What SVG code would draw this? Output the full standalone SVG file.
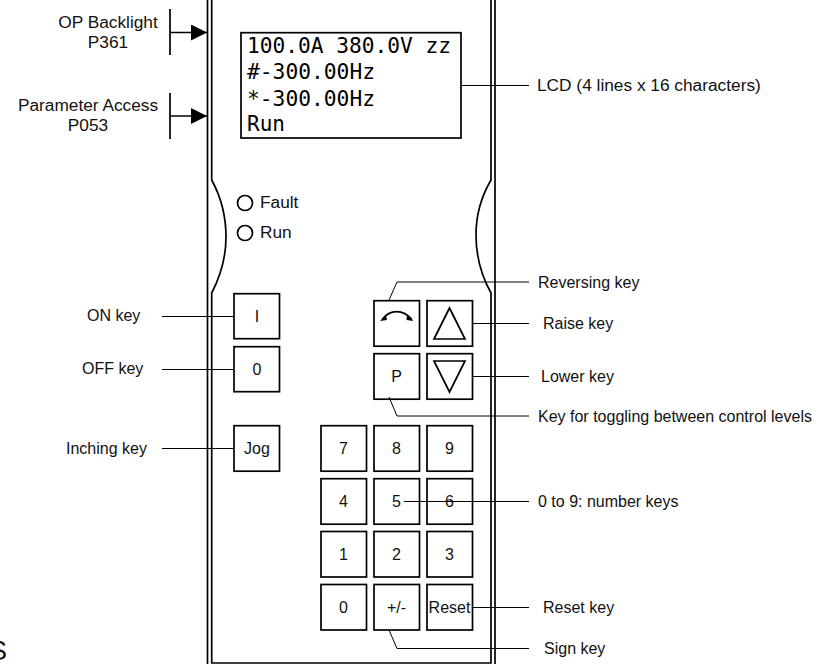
<svg xmlns="http://www.w3.org/2000/svg" width="825" height="664" viewBox="0 0 825 664">
<style>
text{font-family:"Liberation Sans",Arial,sans-serif;font-size:16px;fill:#111}
.big{font-size:17.3px}
.m{text-anchor:middle}
.lcd{font-family:"DejaVu Sans Mono","Liberation Mono",monospace;font-size:21px;fill:#000}
.k{fill:#fff;stroke:#000;stroke-width:1.7}
.b{fill:none;stroke:#000;stroke-width:1.7}
.l{fill:none;stroke:#000;stroke-width:1}
</style>
<defs>
<marker id="ah" viewBox="0 0 10 10" refX="10" refY="5" markerWidth="16" markerHeight="16" markerUnits="userSpaceOnUse" orient="auto"><path d="M0 0L10 5L0 10Z" fill="#000"/></marker>
</defs>
<rect width="825" height="664" fill="#fff"/>
<text x="-11" y="660" style="font-size:27px">S</text>
<g id="housing">
<path class="b" d="M207.5 0V664"/>
<path class="b" d="M495 0V664"/>
<path class="b" d="M211.7 0V180C221 197 226 217 226 237C226 257 221 275 211.7 293V663H491V293C481 275 476 255 476 235C476 215 481 197 491 180V0"/>
</g>
<g id="lcd">
<rect class="k" x="241" y="32.7" width="220" height="105.3"/>
<text class="lcd" x="247" y="53" textLength="204" lengthAdjust="spacingAndGlyphs">100.0A 380.0V zz</text>
<text class="lcd" x="247" y="79" textLength="128" lengthAdjust="spacingAndGlyphs">#-300.00Hz</text>
<text class="lcd" x="247" y="105.5" textLength="128" lengthAdjust="spacingAndGlyphs">*-300.00Hz</text>
<text class="lcd" x="247" y="131">Run</text>
</g>
<g id="led-fault"><circle class="b" cx="245" cy="203" r="7.5"/><text class="big" x="260" y="208">Fault</text></g>
<g id="led-run"><circle class="b" cx="245" cy="233" r="7.5"/><text class="big" x="260" y="238">Run</text></g>
<g id="key-on"><rect class="k" x="234" y="293.7" width="45.5" height="45"/><text class="m" x="257" y="322">I</text></g>
<g id="key-off"><rect class="k" x="234" y="346.7" width="45.5" height="45"/><text class="m" x="257" y="375">0</text></g>
<g id="key-jog"><rect class="k" x="234" y="425.7" width="45.5" height="45.5"/><text class="m" x="257" y="454">Jog</text></g>
<g id="key-reverse"><rect class="k" x="374" y="300.7" width="45.5" height="45.5"/><path class="b" d="M382 319.5C390 309 403 309 412 319.5"/><path d="M380 321L386 315L387 320ZM413.5 321L407 315L406.5 320Z" fill="#000"/></g>
<g id="key-raise"><rect class="k" x="427" y="300.7" width="45.5" height="45.5"/><path class="b" d="M449.5 308L465 339H434Z"/></g>
<g id="key-p"><rect class="k" x="374" y="353.7" width="45.5" height="45.5"/><text class="m" x="396.5" y="382">P</text></g>
<g id="key-lower"><rect class="k" x="427" y="353.7" width="45.5" height="45.5"/><path class="b" d="M434 361H465L449.5 392Z"/></g>
<g id="key-7"><rect class="k" x="321" y="425.7" width="45.5" height="45.5"/><text class="m" x="343.5" y="454">7</text></g>
<g id="key-8"><rect class="k" x="374" y="425.7" width="45.5" height="45.5"/><text class="m" x="396.5" y="454">8</text></g>
<g id="key-9"><rect class="k" x="427" y="425.7" width="45.5" height="45.5"/><text class="m" x="449.5" y="454">9</text></g>
<g id="key-4"><rect class="k" x="321" y="478.7" width="45.5" height="45.5"/><text class="m" x="343.5" y="507">4</text></g>
<g id="key-5"><rect class="k" x="374" y="478.7" width="45.5" height="45.5"/><text class="m" x="396.5" y="507">5</text></g>
<g id="key-6"><rect class="k" x="427" y="478.7" width="45.5" height="45.5"/><text class="m" x="449.5" y="507">6</text></g>
<g id="key-1"><rect class="k" x="321" y="531.5" width="45.5" height="45.5"/><text class="m" x="343.5" y="560">1</text></g>
<g id="key-2"><rect class="k" x="374" y="531.5" width="45.5" height="45.5"/><text class="m" x="396.5" y="560">2</text></g>
<g id="key-3"><rect class="k" x="427" y="531.5" width="45.5" height="45.5"/><text class="m" x="449.5" y="560">3</text></g>
<g id="key-0"><rect class="k" x="321" y="584.5" width="45.5" height="45.5"/><text class="m" x="343.5" y="613">0</text></g>
<g id="key-sign"><rect class="k" x="374" y="584.5" width="45.5" height="45.5"/><text class="m" x="396.5" y="613">+/-</text></g>
<g id="key-reset"><rect class="k" x="427" y="584.5" width="45.5" height="45.5"/><text class="m" x="449.5" y="613">Reset</text></g>
<g id="connectors">
<path class="b" d="M170 9V55M170 93V139"/>
<path class="b" d="M170 32.5H207" marker-end="url(#ah)"/>
<path class="b" d="M170 116H207" marker-end="url(#ah)"/>
<path class="l" d="M461 85.5H529"/>
<path class="l" d="M162 316.5H234"/>
<path class="l" d="M162 369.5H234"/>
<path class="l" d="M162 448.5H234"/>
<path class="l" d="M389 300L397 282H529"/>
<path class="l" d="M472.5 323.5H529"/>
<path class="l" d="M472.5 376.5H529"/>
<path class="l" d="M389 397L397 416H529"/>
<path class="l" d="M404 501.5H529"/>
<path class="l" d="M472.5 607.5H529"/>
<path class="l" d="M389 630L397 648.5H529"/>
</g>
<g id="labels">
<text class="m big" x="108" y="28">OP Backlight</text>
<text class="m big" x="108" y="48">P361</text>
<text class="m big" x="88" y="111">Parameter Access</text>
<text class="m big" x="88" y="131">P053</text>
<text x="87" y="321">ON key</text>
<text x="82" y="374">OFF key</text>
<text x="66" y="454">Inching key</text>
<text class="big" x="537" y="91">LCD (4 lines x 16 characters)</text>
<text x="538" y="288">Reversing key</text>
<text x="543" y="329">Raise key</text>
<text x="541" y="382">Lower key</text>
<text x="538" y="422">Key for toggling between control levels</text>
<text x="538" y="507">0 to 9: number keys</text>
<text x="543" y="613">Reset key</text>
<text x="544" y="654">Sign key</text>
</g>
</svg>
